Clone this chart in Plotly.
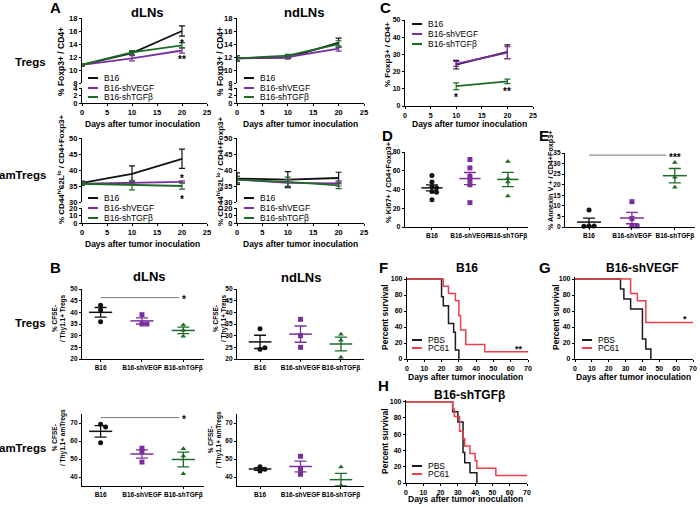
import numpy as np
import plotly.graph_objects as go

# ---------------- data ----------------
groups = ["B16", "B16-shVEGF", "B16-shTGFβ"]
days = [0, 10, 20]
days_c = [10, 20]

# A: dLNs Tregs (% Foxp3+ / CD4+)
a_dln_treg_b16 = [10.8, 12.6, 16.0]
a_dln_treg_b16_sem = [0.2, 0.3, 0.8]
a_dln_treg_vegf = [10.8, 11.8, 13.0]
a_dln_treg_vegf_sem = [0.2, 0.4, 0.4]
a_dln_treg_tgf = [10.8, 12.7, 13.8]
a_dln_treg_tgf_sem = [0.2, 0.3, 0.4]
# A: ndLNs Tregs
a_ndln_treg_b16 = [11.8, 11.9, 14.2]
a_ndln_treg_b16_sem = [0.4, 0.2, 0.7]
a_ndln_treg_vegf = [11.8, 12.0, 13.3]
a_ndln_treg_vegf_sem = [0.4, 0.2, 0.4]
a_ndln_treg_tgf = [11.8, 12.2, 14.0]
a_ndln_treg_tgf_sem = [0.4, 0.2, 0.5]
# A: dLNs amTregs
a_dln_am_b16 = [36.0, 38.8, 43.5]
a_dln_am_b16_sem = [0.5, 2.5, 3.0]
a_dln_am_vegf = [35.7, 36.0, 36.3]
a_dln_am_vegf_sem = [0.5, 0.3, 0.3]
a_dln_am_tgf = [35.7, 35.3, 35.0]
a_dln_am_tgf_sem = [0.5, 1.5, 1.0]
# A: ndLNs amTregs
a_ndln_am_b16 = [37.3, 37.0, 37.5]
a_ndln_am_b16_sem = [1.8, 2.5, 1.8]
a_ndln_am_vegf = [37.0, 36.0, 35.8]
a_ndln_am_vegf_sem = [1.0, 1.0, 0.8]
a_ndln_am_tgf = [37.0, 36.3, 35.2]
a_ndln_am_tgf_sem = [1.0, 1.5, 1.0]

# B: % CFSE- / Thy1.1+ (Tregs / amTregs)
b_dln_treg = [[43, 41, 36], [39, 35, 35], [34.6, 32.3, 29.8]]
b_ndln_treg = [[33, 24.2, 24.8], [37, 30, 25], [30.6, 28, 20.7]]
b_dln_am = [[69.3, 67.8, 59], [56, 54, 48.3], [55.7, 51.7, 41.8]]
b_ndln_am = [[45.7, 43.3, 44.3], [51.5, 44.5, 41.5], [45.5, 35.3, 34.8]]

# C: % Foxp3+ / CD4+ in tumor
c_b16 = [24, 31.5]
c_b16_sem = [2.5, 4.0]
c_vegf = [24.5, 31.0]
c_vegf_sem = [1.5, 3.5]
c_tgf = [11.5, 14.3]
c_tgf_sem = [2.0, 1.3]

# D: % Ki67+ ; E: % Annexin V+
d_ki67 = [[55, 48, 43, 42, 38, 37, 29], [72, 63, 54, 50, 45, 26], [70, 52, 48, 33]]
e_annexin = [[8, 0.5, 0.5, 0.3], [12, 4, 0.5, 0.5], [30.5, 23.5, 18.8]]

# F-H: survival (days, percent)
f_pbs_t = [0, 20, 21, 24, 27, 28, 30]
f_pbs_s = [100, 77.8, 66.7, 44.4, 33.3, 11.1, 0]
f_pc61_t = [0, 21, 24, 28, 30, 31, 34, 45, 70]
f_pc61_s = [100, 90.9, 81.8, 72.7, 54.5, 36.4, 18.2, 9.1, 9.1]
g_pbs_t = [0, 27, 29, 33, 40, 42, 45]
g_pbs_s = [100, 87.5, 75, 62.5, 25, 12.5, 0]
g_pc61_t = [0, 33, 37, 42, 70]
g_pc61_s = [100, 81.8, 72.7, 45.5, 45.5]
h_pbs_t = [0, 27, 30, 33, 34, 37, 41]
h_pbs_s = [100, 87.5, 75, 37.5, 25, 12.5, 0]
h_pc61_t = [0, 27, 28, 31, 33, 34, 37, 40, 41, 52, 70]
h_pc61_s = [100, 90.9, 81.8, 63.6, 54.5, 45.5, 36.4, 27.3, 18.2, 9.1, 9.1]

# ---------------- styling / helpers ----------------
W, H = 700, 507
FONT = "Liberation Sans"
COL = {"B16": "#111111", "B16-shVEGF": "#7b2f9e", "B16-shTGFβ": "#1e6b28"}
PBS_C = "#1a1a26"
PC61_C = "#e8414b"
SYM = ["circle", "square", "triangle-up"]

layout = {}
traces = []
ann = []
shapes = []
cnt = {"x": 0, "y": 0}


def new(kind):
    cnt[kind] += 1
    n = cnt[kind]
    ref = kind if n == 1 else f"{kind}{n}"
    key = f"{kind}axis" if n == 1 else f"{kind}axis{n}"
    return ref, key


def ydom(top, bot):
    return [1 - bot / H, 1 - top / H]


def xdom(l, r):
    return [l / W, r / W]


def axstyle(size=8, **kw):
    d = dict(showline=True, linecolor="black", linewidth=1.3, ticks="outside", ticklen=2,
             tickwidth=1.2, tickcolor="black", showgrid=False, zeroline=False, fixedrange=True,
             tickangle=0,
             tickfont=dict(family=FONT, size=size, color="black", weight="bold"))
    d.update(kw)
    return d


def panel(xd, yd, xr, yr, xt, yt, xsize=8, ysize=8, xtext=None):
    xref, xk = new("x")
    yref, yk = new("y")
    xa = axstyle(xsize, domain=xdom(*xd), range=xr, anchor=yref, tickvals=xt)
    if xtext is not None:
        xa["ticktext"] = xtext
    layout[xk] = xa
    layout[yk] = axstyle(ysize, domain=ydom(*yd), range=yr, anchor=xref, tickvals=yt)
    return xref, yref


def broken(xd, ytd, ybd, xr, ytr, ybr, xt, ytt, ybt, size=7.5):
    xref, xk = new("x")
    yt, ytk = new("y")
    yb, ybk = new("y")
    layout[xk] = axstyle(size, domain=xdom(*xd), range=xr, anchor=yb, tickvals=xt)
    layout[ytk] = axstyle(size, domain=ydom(*ytd), range=ytr, anchor=xref, tickvals=ytt)
    layout[ybk] = axstyle(size, domain=ydom(*ybd), range=ybr, anchor=xref, tickvals=ybt)
    traces.append(go.Scatter(x=[None], y=[None], xaxis=xref, yaxis=yb, showlegend=False, hoverinfo="skip"))
    return xref, yt


def lines(xr_, yr_, x, ys, sems):
    for y, e, n in zip(ys, sems, groups):
        traces.append(go.Scatter(x=x, y=y, mode="lines", line=dict(color=COL[n], width=1.8),
                                 error_y=dict(type="data", array=e, color=COL[n], thickness=1.2, width=3),
                                 xaxis=xr_, yaxis=yr_, showlegend=False, hoverinfo="skip"))


def swarm(vals, thr, step=0.12):
    placed, offs = [], []
    for v in vals:
        for c in [0, step, -step, 2 * step, -2 * step, 3 * step, -3 * step]:
            if all(abs(c - o) >= step * 0.99 or abs(v - pv) >= thr for o, pv in placed):
                break
        placed.append((c, v))
        offs.append(c)
    return offs


def dots(xr_, yr_, data, thr, msize=5):
    for i, (vals, n, sym) in enumerate(zip(data, groups, SYM)):
        offs = swarm(vals, thr)
        traces.append(go.Scatter(x=[i + o for o in offs], y=vals, mode="markers",
                                 marker=dict(color=COL[n], symbol=sym, size=msize),
                                 cliponaxis=False, xaxis=xr_, yaxis=yr_, showlegend=False, hoverinfo="skip"))
        m = float(np.mean(vals))
        se = float(np.std(vals, ddof=1) / np.sqrt(len(vals)))
        traces.append(go.Scatter(x=[i - 0.28, i + 0.28], y=[m, m], mode="lines",
                                 line=dict(color=COL[n], width=1.5),
                                 xaxis=xr_, yaxis=yr_, showlegend=False, hoverinfo="skip"))
        traces.append(go.Scatter(x=[i], y=[m], mode="markers", marker=dict(size=1, color=COL[n]),
                                 error_y=dict(type="data", array=[se], color=COL[n], thickness=1.3, width=6),
                                 cliponaxis=False, xaxis=xr_, yaxis=yr_, showlegend=False, hoverinfo="skip"))


def surv(xr_, yr_, t, s, color):
    traces.append(go.Scatter(x=t, y=s, mode="lines", line=dict(color=color, width=1.5, shape="hv"),
                             xaxis=xr_, yaxis=yr_, showlegend=False, hoverinfo="skip"))


def txt(x, y, s, size=9, bold=True, xanchor="center", angle=0):
    ann.append(dict(x=x / W, y=1 - y / H, xref="paper", yref="paper",
                    text=f"<b>{s}</b>" if bold else s, showarrow=False,
                    font=dict(family=FONT, size=size, color="black"),
                    xanchor=xanchor, yanchor="middle", textangle=angle))


def star(xr_, yr_, x, y, s, size=10):
    ann.append(dict(x=x, y=y, xref=xr_, yref=yr_, text=f"<b>{s}</b>", showarrow=False,
                    font=dict(family=FONT, size=size, color="black"), yshift=-2))


def sig(xr_, yr_, level, x0, x1, s, xs):
    traces.append(go.Scatter(x=[x0, x1], y=[level, level], mode="lines", line=dict(color="#777777", width=1),
                             xaxis=xr_, yaxis=yr_, showlegend=False, hoverinfo="skip"))
    star(xr_, yr_, xs, level, s)


def legend(x0, x1, xt, ys, labels, colors, size=8.5):
    for y, lab, c in zip(ys, labels, colors):
        shapes.append(dict(type="line", xref="paper", yref="paper", x0=x0 / W, x1=x1 / W,
                           y0=1 - y / H, y1=1 - y / H, line=dict(color=c, width=2)))
        txt(xt, y, lab, size=size, bold=False, xanchor="left")


gcols = [COL[g] for g in groups]
DAYS_T = "Days after tumor inoculation"

# ---------------- Panel A ----------------
xa1, ya1 = broken((82, 207), (18, 83), (88, 103), [0, 25], [8, 18], [0, 4],
                  [0, 5, 10, 15, 20, 25], [8, 10, 12, 14, 16, 18], [0, 2, 4])
lines(xa1, ya1, days, [a_dln_treg_b16, a_dln_treg_vegf, a_dln_treg_tgf],
      [a_dln_treg_b16_sem, a_dln_treg_vegf_sem, a_dln_treg_tgf_sem])
star(xa1, ya1, 20, 14.4, "*")
star(xa1, ya1, 20, 11.9, "**")

xa2, ya2 = broken((237, 364), (18, 83), (88, 103), [0, 25], [8, 18], [0, 4],
                  [0, 5, 10, 15, 20, 25], [8, 10, 12, 14, 16, 18], [0, 2, 4])
lines(xa2, ya2, days, [a_ndln_treg_b16, a_ndln_treg_vegf, a_ndln_treg_tgf],
      [a_ndln_treg_b16_sem, a_ndln_treg_vegf_sem, a_ndln_treg_tgf_sem])

xa3, ya3 = broken((82, 207), (138, 202), (208, 223), [0, 25], [30, 50], [0, 20],
                  [0, 5, 10, 15, 20, 25], [30, 35, 40, 45, 50], [0, 10, 20])
lines(xa3, ya3, days, [a_dln_am_b16, a_dln_am_vegf, a_dln_am_tgf],
      [a_dln_am_b16_sem, a_dln_am_vegf_sem, a_dln_am_tgf_sem])
star(xa3, ya3, 20, 37.9, "*")
star(xa3, ya3, 20, 31.4, "*")

xa4, ya4 = broken((237, 364), (138, 202), (208, 223), [0, 25], [30, 50], [0, 20],
                  [0, 5, 10, 15, 20, 25], [30, 35, 40, 45, 50], [0, 10, 20])
lines(xa4, ya4, days, [a_ndln_am_b16, a_ndln_am_vegf, a_ndln_am_tgf],
      [a_ndln_am_b16_sem, a_ndln_am_vegf_sem, a_ndln_am_tgf_sem])

legend(88, 98, 102, [78, 88, 97], groups, gcols)
legend(244, 254, 258, [78, 88, 97], groups, gcols)
legend(88, 98, 102, [198, 208, 218], groups, gcols)
legend(244, 254, 258, [198, 208, 218], groups, gcols)

# ---------------- Panel B ----------------
xb1, yb1 = panel((82, 204), (289, 359), [-0.45, 2.5], [20, 50], [0, 1, 2], list(range(20, 51, 5)),
                 xsize=6.5, ysize=6.5, xtext=groups)
dots(xb1, yb1, b_dln_treg, 1.5)
sig(xb1, yb1, 46.3, 0, 1.9, "*", 2.02)

xb2, yb2 = panel((237, 364), (289, 359), [-0.57, 2.57], [20, 50], [0, 1, 2], list(range(20, 51, 5)),
                 xsize=6.5, ysize=6.5, xtext=groups)
dots(xb2, yb2, b_ndln_treg, 1.5)

xb3, yb3 = panel((82, 204), (414, 486), [-0.45, 2.5], [35, 75], [0, 1, 2], [40, 50, 60, 70],
                 xsize=6.5, ysize=6.5, xtext=groups)
dots(xb3, yb3, b_dln_am, 2.0)
sig(xb3, yb3, 73, 0, 1.9, "*", 2.02)

xb4, yb4 = panel((237, 364), (414, 486), [-0.57, 2.57], [35, 75], [0, 1, 2], [40, 50, 60, 70],
                 xsize=6.5, ysize=6.5, xtext=groups)
dots(xb4, yb4, b_ndln_am, 2.0)

# ---------------- Panel C ----------------
xc, yc = panel((405, 533), (20, 106), [0, 25], [0, 50], [0, 5, 10, 15, 20, 25], [0, 10, 20, 30, 40, 50],
               xsize=7, ysize=7)
lines(xc, yc, days_c, [c_b16, c_vegf, c_tgf], [c_b16_sem, c_vegf_sem, c_tgf_sem])
star(xc, yc, 10, 6.2, "*")
star(xc, yc, 20, 9.3, "**")
legend(412, 422, 426, [24, 34, 44], groups, gcols)

# ---------------- Panels D, E ----------------
xd, yd = panel((405, 528), (152, 227), [-0.71, 2.53], [0, 80], [0, 1, 2], [0, 20, 40, 60, 80],
               xsize=6.5, ysize=7, xtext=groups)
dots(xd, yd, d_ki67, 3.0)

xe, ye = panel((565, 695), (153, 227), [-0.56, 2.47], [0, 35], [0, 1, 2], list(range(0, 36, 5)),
               xsize=6.5, ysize=6.5, xtext=groups)
dots(xe, ye, e_annexin, 1.5)
sig(xe, ye, 34, 0, 1.8, "***", 2.0)

# ---------------- Panels F, G, H ----------------
xf, yf = panel((407, 528), (277.4, 359), [0, 70], [0, 102], list(range(0, 71, 10)), [0, 20, 40, 60, 80, 100],
               xsize=7, ysize=7)
surv(xf, yf, f_pbs_t, f_pbs_s, PBS_C)
surv(xf, yf, f_pc61_t, f_pc61_s, PC61_C)
star(xf, yf, 65, 15, "**", 9)

xg, yg = panel((575, 693), (277.4, 359), [0, 70], [0, 102], list(range(0, 71, 10)), [0, 20, 40, 60, 80, 100],
               xsize=7, ysize=7)
surv(xg, yg, g_pbs_t, g_pbs_s, PBS_C)
surv(xg, yg, g_pc61_t, g_pc61_s, PC61_C)
star(xg, yg, 65.5, 52.5, "*", 9)

xh, yh = panel((406, 527), (400, 483), [0, 70], [0, 102], list(range(0, 71, 10)), [0, 20, 40, 60, 80, 100],
               xsize=7, ysize=7)
surv(xh, yh, h_pbs_t, h_pbs_s, PBS_C)
surv(xh, yh, h_pc61_t, h_pc61_s, PC61_C)

legend(412, 422, 426, [340, 348], ["PBS", "PC61"], [PBS_C, PC61_C])
legend(582, 592, 596, [340, 348], ["PBS", "PC61"], [PBS_C, PC61_C])
legend(412, 422, 426, [466, 474], ["PBS", "PC61"], [PBS_C, PC61_C])

# ---------------- texts ----------------
for letter, x, y in [("A", 55, 8), ("B", 55, 267), ("C", 386, 8), ("D", 387, 135), ("E", 544, 135),
                     ("F", 383, 267), ("G", 545, 267), ("H", 383, 385)]:
    txt(x, y, letter, size=15)

txt(147, 12, "dLNs", size=13)
txt(304, 12, "ndLNs", size=13)
txt(149, 276, "dLNs", size=13)
txt(301, 277, "ndLNs", size=13)
txt(48, 62, "Tregs", size=11.5, xanchor="right")
txt(48, 175, "amTregs", size=11.5, xanchor="right")
txt(48, 323, "Tregs", size=11.5, xanchor="right")
txt(48, 448, "amTregs", size=11.5, xanchor="right")

txt(467, 268, "B16", size=12)
txt(642, 268, "B16-shVEGF", size=12)
txt(470, 395, "B16-shTGFβ", size=12)

for x, y in [(142, 124), (300, 124), (142, 244), (300, 244), (469, 124), (465, 377), (633, 377), (465, 499)]:
    txt(x, y, DAYS_T, size=8.5)

txt(61, 62, "% Foxp3+ / CD4+", size=8.5, angle=-90)
txt(220, 62, "% Foxp3+ / CD4+", size=8.5, angle=-90)
txt(61, 170, "% CD44<sup>hi</sup>62L<sup>lo</sup> / CD4+Foxp3+", size=8, angle=-90)
txt(220, 172, "% CD44<sup>hi</sup>62L<sup>lo</sup> / CD4+Foxp3+", size=8, angle=-90)
txt(59, 318, "% CFSE-<br>/ Thy1.1+ Tregs", size=6.5, angle=-90)
txt(220, 318, "% CFSE-<br>/ Thy1.1+ Tregs", size=6.5, angle=-90)
txt(59, 438, "% CFSE-<br>/ Thy1.1+ amTregs", size=6.5, angle=-90)
txt(215, 440, "% CFSE-<br>/ Thy1.1+ amTregs", size=6.5, angle=-90)
txt(387, 55, "% Foxp3+ / CD4+", size=8, angle=-90)
txt(388, 182, "% Ki67+ / CD4+Foxp3+", size=7.5, angle=-90)
txt(550, 181, "% Annexin V + / CD4+Foxp3+", size=7.2, angle=-90)
txt(385, 317, "Percent survival", size=8.5, angle=-90)
txt(556, 317, "Percent survival", size=8.5, angle=-90)
txt(385, 441, "Percent survival", size=8.5, angle=-90)

fig = go.Figure(data=traces)
fig.update_layout(width=W, height=H, margin=dict(l=0, r=0, t=0, b=0), template="none",
                  paper_bgcolor="white", plot_bgcolor="white", showlegend=False,
                  annotations=ann, shapes=shapes, **layout)
fig.write_html("out.html")
